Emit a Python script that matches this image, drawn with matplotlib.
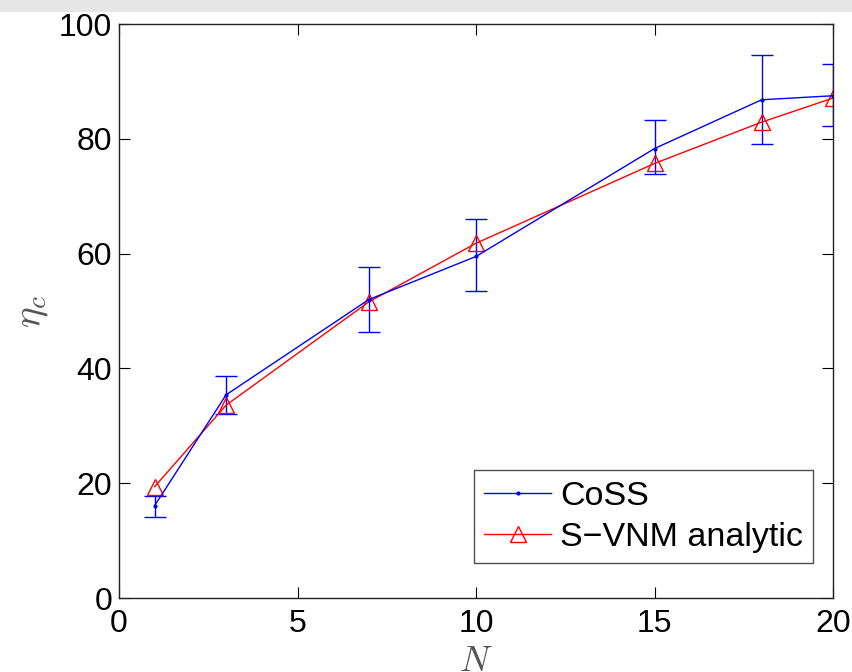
import matplotlib
matplotlib.use("Agg")
import matplotlib.pyplot as plt
from matplotlib.patches import Rectangle
from matplotlib.lines import Line2D

# Number of nodes
N = [1, 3, 7, 10, 15, 18, 20]

# CoSS simulation: mean and error bar extents
coss_mean = [16.1, 35.4, 52.0, 59.5, 78.3, 86.8, 87.5]
coss_low = [14.1, 32.1, 46.3, 53.4, 73.8, 79.1, 82.3]
coss_high = [17.8, 38.6, 57.6, 66.0, 83.2, 94.6, 93.0]

# S-VNM analytic prediction
svnm = [19.4, 33.6, 51.6, 61.8, 75.7, 82.9, 87.1]

xticks = [0, 5, 10, 15, 20]
yticks = [0, 20, 40, 60, 80, 100]

plt.rcParams['font.family'] = ['Liberation Sans', 'DejaVu Sans']
plt.rcParams['mathtext.fontset'] = 'cm'

fig = plt.figure(figsize=(8.52, 6.72), dpi=100)
fig.patches.append(Rectangle((0, 1 - 12 / 672), 1, 12 / 672, transform=fig.transFigure,
                             facecolor='#e6e6e6', edgecolor='none', zorder=0))

ax = fig.add_axes([119 / 852, 1 - 598 / 672, 714 / 852, 574 / 672])

yerr = [[m - lo for m, lo in zip(coss_mean, coss_low)],
        [hi - m for m, hi in zip(coss_mean, coss_high)]]

ax.errorbar(N, coss_mean, yerr=yerr, color='#0000ff', lw=1.0, marker='.',
            markersize=4, capsize=8, capthick=1.0, elinewidth=1.0)
ax.plot(N, svnm, color='#ff0000', lw=1.0, marker='^', markersize=11,
        markerfacecolor='none', markeredgecolor='#ff0000', markeredgewidth=1.0)

ax.set_xlim(0, 20)
ax.set_ylim(0, 100)
ax.set_xticks(xticks)
ax.set_yticks(yticks)
ax.tick_params(direction='in', length=8, width=0.8, top=True, right=True,
               labelsize=23)
ax.tick_params(axis='x', pad=8)
ax.tick_params(axis='y', pad=5)
for s in ax.spines.values():
    s.set_linewidth(1.0)
    s.set_color('#222222')

ax.set_xlabel('$N$', fontsize=26, color='#555555')
ax.xaxis.set_label_coords(0.5, -0.080)
ax.xaxis.label.set_va('top')
ax.set_ylabel(r'$\eta_c$', fontsize=28, color='#555555')
ax.yaxis.set_label_coords(-0.122, 0.50)
ax.yaxis.label.set_va('center')

handles = [
    Line2D([], [], color='#0000ff', lw=1.0, marker='.', markersize=4),
    Line2D([], [], color='#ff0000', lw=1.0, marker='^', markersize=11,
           markerfacecolor='none', markeredgecolor='#ff0000'),
]
leg = ax.legend(handles, ['CoSS', 'S\u2212VNM analytic'], loc='lower right',
                fontsize=24.5, frameon=True, fancybox=False, edgecolor='#222222',
                handlelength=1.97, handletextpad=0.25, borderpad=0.3,
                labelspacing=0.3, borderaxespad=0,
                bbox_to_anchor=(813 / 852 * 852 / 714 - 119 / 714, 35 / 574))
leg.get_frame().set_linewidth(1.0)

fig.savefig('out.png', dpi=100)
